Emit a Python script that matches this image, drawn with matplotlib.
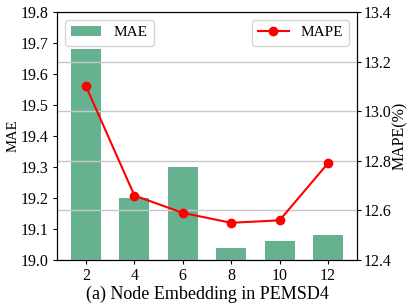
import matplotlib
matplotlib.use("Agg")
import matplotlib.pyplot as plt
import numpy as np

categories = ["2", "4", "6", "8", "10", "12"]
mae = [19.68, 19.20, 19.30, 19.04, 19.06, 19.08]
mape = [13.10, 12.66, 12.59, 12.55, 12.56, 12.79]

plt.rcParams['font.family'] = ['Liberation Serif', 'DejaVu Serif']

fig = plt.figure(figsize=(4.16, 3.08), dpi=100)
ax = fig.add_axes([57/416, 1 - 260/308, 300/416, 248/308])
x = np.arange(len(categories))
ax.bar(x, mae, width=0.62, color='#66b290', label='MAE', zorder=1)
ax.set_ylim(19.0, 19.8)
ax.set_yticks(np.round(np.arange(19.0, 19.81, 0.1), 1))
ax.set_xlim(-0.6, 5.6)
ax.set_xticks(x)
ax.set_xticklabels(categories)
ax.set_ylabel('MAE', fontsize=10.5, labelpad=1)
ax.set_xlabel('(a) Node Embedding in PEMSD4', fontsize=13, labelpad=1)
ax.tick_params(labelsize=11.5, length=3, pad=3)
ax.legend(loc='upper left', fontsize=11, handlelength=2.0, framealpha=0.8)

ax2 = ax.twinx()
ax2.plot(x, mape, color='red', marker='o', markersize=6, linewidth=1.5, label='MAPE', zorder=3)
ax2.set_ylim(12.4, 13.4)
ax2.set_yticks([12.4, 12.6, 12.8, 13.0, 13.2, 13.4])
ax2.grid(axis='y', color='#c8c8c8', linewidth=1.0)
ax2.set_ylabel('MAPE(%)', fontsize=11.5, labelpad=0)
ax2.tick_params(labelsize=11.5, length=3, pad=2)
ax2.legend(loc='upper right', fontsize=11, handlelength=2.0, framealpha=0.8)

fig.savefig('out.png', dpi=100)
